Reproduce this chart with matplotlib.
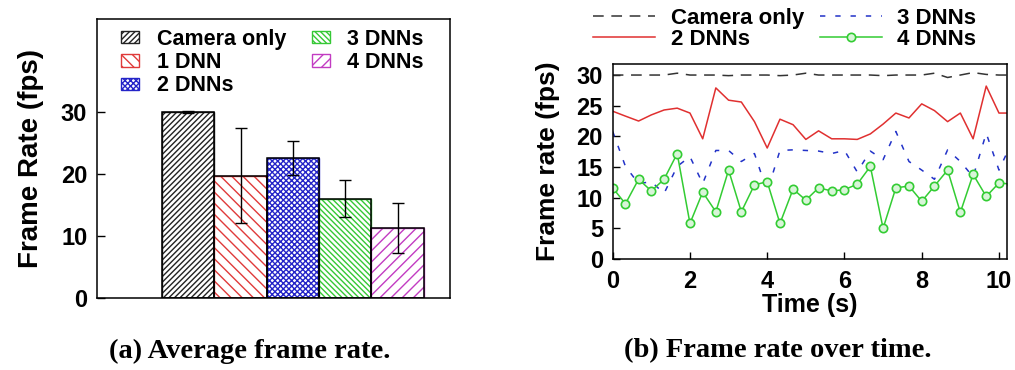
import matplotlib

matplotlib.use("Agg")

from matplotlib import pyplot as plt  # noqa: E402

plt.rcParams["font.family"] = ["Liberation Sans", "DejaVu Sans"]
plt.rcParams["font.weight"] = "bold"
plt.rcParams["hatch.linewidth"] = 1.0

# (a) average frame rate per configuration
bar_labels = ["Camera only", "1 DNN", "2 DNNs", "3 DNNs", "4 DNNs"]
bar_means = [30.0, 19.6, 22.6, 16.0, 11.3]
bar_err_low = [29.8, 12.1, 19.9, 13.1, 7.2]
bar_err_high = [30.2, 27.4, 25.4, 19.1, 15.4]
bar_colors = ["#222222", "#e03a3a", "#2424c8", "#35c835", "#c23cc2"]
bar_hatches = ["//////", "\\\\\\", "xxxxxx", "\\\\\\\\\\\\", "///"]

# (b) frame rate over time, sampled every 1/3 s
time_s = [0.0, 0.33, 0.67, 1.0, 1.33, 1.67, 2.0, 2.33, 2.67, 3.0, 3.33,
          3.67, 4.0, 4.33, 4.67, 5.0, 5.33, 5.67, 6.0, 6.33, 6.67, 7.0,
          7.33, 7.67, 8.0, 8.33, 8.67, 9.0, 9.33, 9.67, 10.0, 10.33]
camera_only = [30.0, 30.0, 30.0, 30.0, 30.0, 30.3, 30.0, 30.0, 30.0, 29.9,
               30.0, 30.0, 30.0, 29.9, 30.0, 30.3, 30.0, 30.0, 30.0, 30.0,
               30.0, 29.9, 30.0, 30.0, 30.0, 30.3, 29.6, 30.0, 30.4, 30.1,
               30.0, 30.0]
two_dnns = [24.1, 23.3, 22.5, 23.5, 24.3, 24.6, 23.8, 19.6, 27.9, 25.9,
            25.6, 22.4, 18.1, 22.8, 21.9, 19.5, 20.9, 19.6, 19.6, 19.5,
            20.4, 22.0, 23.8, 23.0, 25.3, 24.2, 22.4, 23.8, 19.6, 28.2,
            23.8, 23.8]
three_dnns = [20.8, 15.1, 12.3, 12.6, 10.7, 15.1, 16.7, 12.3, 17.7, 17.7,
              15.9, 17.2, 11.0, 17.7, 17.8, 17.7, 17.6, 17.2, 17.7, 14.2,
              17.6, 16.2, 20.8, 15.9, 14.5, 13.0, 17.8, 15.9, 13.4, 20.5,
              14.5, 19.0]
four_dnns = [11.6, 9.0, 13.0, 11.1, 13.0, 17.2, 5.8, 10.9, 7.7, 14.5,
             7.7, 12.1, 12.6, 5.8, 11.4, 9.6, 11.6, 11.1, 11.3, 12.2,
             15.1, 5.0, 11.6, 11.9, 9.4, 11.9, 14.5, 7.6, 13.8, 10.2,
             12.4, 12.2]

fig = plt.figure(figsize=(10.15, 3.7), dpi=100)
W, H = 1015, 370

# ---- (a) bars
ax_bar = fig.add_axes([97 / W, 1 - 298 / H, 353 / W, 279 / H])
positions = list(range(len(bar_means)))
yerr = [
    [m - lo for m, lo in zip(bar_means, bar_err_low)],
    [hi - m for m, hi in zip(bar_means, bar_err_high)],
]
bars = []
for pos, mean, color, hatch, label in zip(
    positions, bar_means, bar_colors, bar_hatches, bar_labels
):
    bar = ax_bar.bar(
        pos, mean, width=1.0, facecolor="white", edgecolor=color,
        hatch=hatch, linewidth=1.0, label=label, zorder=2,
    )
    # black outline drawn over the coloured hatch
    ax_bar.bar(pos, mean, width=1.0, facecolor="none", edgecolor="black",
               linewidth=1.1, zorder=3)
    bars.append(bar)
ax_bar.errorbar(positions, bar_means, yerr=yerr, fmt="none", ecolor="black",
                elinewidth=1.0, capsize=4, capthick=1.0, zorder=4)
ax_bar.set_xlim(-1.74, 5.0)
ax_bar.set_ylim(0, 45)
ax_bar.set_yticks([0, 10, 20, 30])
ax_bar.set_xticks([])
ax_bar.tick_params(axis="y", direction="in", length=6, width=1.0, pad=7,
                   labelsize=17)
ax_bar.set_ylabel("Frame Rate (fps)", fontsize=20, fontweight="bold",
                  labelpad=12)
for spine in ax_bar.spines.values():
    spine.set_linewidth(1.1)

fig.legend(
    handles=bars, loc="upper left", ncol=2,
    bbox_to_anchor=(121 / W, 1 - 29 / H), frameon=False, fontsize=15.5,
    handlelength=0.85, handleheight=0.5, handletextpad=0.8,
    labelspacing=0.1, columnspacing=1.2, borderpad=0, borderaxespad=0,
)

# ---- (b) lines
ax_ln = fig.add_axes([612.7 / W, 1 - 259 / H, 394 / W, 195 / H])
ax_ln.plot(time_s, camera_only, color="#333333", linewidth=1.1,
           dashes=(7, 5), label="Camera only")
ax_ln.plot(time_s, two_dnns, color="#e03030", linewidth=1.1, label="2 DNNs")
ax_ln.plot(time_s, three_dnns, color="#2232c8", linewidth=1.1,
           dashes=(3.5, 6.5), label="3 DNNs")
ax_ln.plot(time_s, four_dnns, color="#33cc33", linewidth=1.1, marker="o",
           markersize=6, markerfacecolor="#d8f5d8", markeredgecolor="#33cc33",
           markeredgewidth=1.2, label="4 DNNs")
ax_ln.set_xlim(0, 10.2)
ax_ln.set_ylim(0, 31.8)
ax_ln.set_xticks([0, 2, 4, 6, 8, 10])
ax_ln.set_yticks([0, 5, 10, 15, 20, 25, 30])
ax_ln.tick_params(direction="in", length=5, width=1.0, labelsize=17)
ax_ln.tick_params(axis="y", pad=7)
ax_ln.tick_params(axis="x", pad=8)
ax_ln.set_xlabel("Time (s)", fontsize=18, fontweight="bold", labelpad=0)
ax_ln.set_ylabel("Frame rate (fps)", fontsize=19, fontweight="bold",
                 labelpad=12)
for spine in ax_ln.spines.values():
    spine.set_linewidth(1.1)

fig.legend(
    handles=ax_ln.get_lines(), loc="upper left", ncol=2,
    bbox_to_anchor=(593 / W, 1 - 8 / H), frameon=False, fontsize=16,
    handlelength=2.8, handletextpad=0.7, labelspacing=0.0,
    columnspacing=0.7, borderpad=0, borderaxespad=0,
)

# ---- captions
caption_font = {"family": ["Liberation Serif", "DejaVu Serif"],
                "weight": "bold", "size": 20.5}
fig.text(250 / W, 1 - 351 / H, "(a) Average frame rate.", ha="center",
         va="center", fontdict=caption_font)
fig.text(778 / W, 1 - 351 / H, "(b) Frame rate over time.", ha="center",
         va="center", fontdict=caption_font)

fig.savefig("out.png", dpi=100)
plt.close(fig)
